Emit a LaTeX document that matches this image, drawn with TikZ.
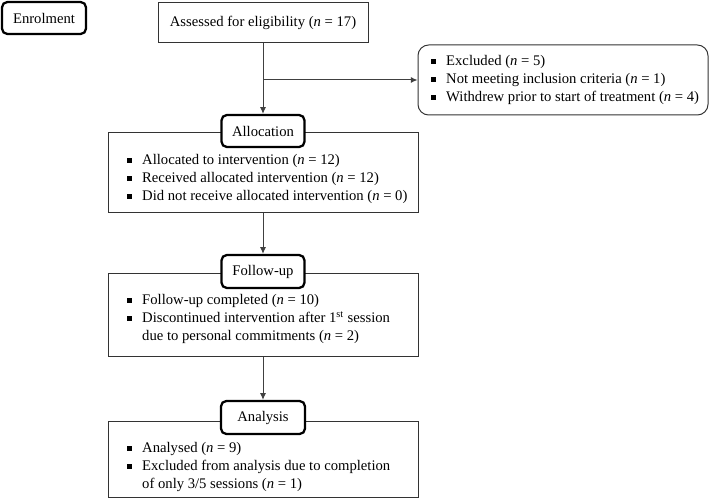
\documentclass[tikz,border=0pt]{standalone}
\usepackage{fontspec}
\setmainfont{Liberation Serif}
\usetikzlibrary{arrows.meta}
\newcommand{\sqbul}{\rule[1.5pt]{3.7pt}{3.7pt}}
\newcommand{\nn}{\textit{n}}

\begin{document}
\begin{tikzpicture}[x=0.75pt, y=-0.75pt,
    every node/.style={font=\fontsize{11}{13.5}\selectfont},
    box/.style={draw=black!80, line width=0.75pt, inner sep=0pt},
    labelbox/.style={draw, line width=1.7pt, rounded corners=4pt, fill=white, inner sep=0pt},
    listtext/.style={anchor=west, inner sep=0pt},
    arr/.style={draw=black!75, line width=0.75pt, -{Latex[length=5pt,width=4.5pt]}}]

    \useasboundingbox (0, 0) rectangle (711, 499);

    \node[labelbox, minimum width=63pt, minimum height=24pt] (enrol) at (44, 18) {Enrolment};
    \node[box, minimum width=157.5pt, minimum height=30pt] (assess) at (263, 23) {Assessed for eligibility (\nn{} = 17)};

    \node[box, rounded corners=8pt, minimum width=217.5pt, minimum height=52.5pt] (excl) at (563, 80) {};
    \node[listtext] (exclT) at (431, 80) {\begin{tabular}{@{}l@{\hspace{7.5pt}}l@{}}
        \sqbul & Excluded (\nn{} = 5)\\
        \sqbul & Not meeting inclusion criteria (\nn{} = 1)\\
        \sqbul & Withdrew prior to start of treatment (\nn{} = 4)
    \end{tabular}};

    \node[box, minimum width=232.5pt, minimum height=60pt] (alloc) at (263, 173) {};
    \node[labelbox, minimum width=62.25pt, minimum height=24pt] (allocL) at (263, 131) {Allocation};
    \node[listtext] (allocT) at (127, 179) {\begin{tabular}{@{}l@{\hspace{7.5pt}}l@{}}
        \sqbul & Allocated to intervention (\nn{} = 12)\\
        \sqbul & Received allocated intervention (\nn{} = 12)\\
        \sqbul & Did not receive allocated intervention (\nn{} = 0)
    \end{tabular}};

    \node[box, minimum width=232.5pt, minimum height=61.5pt] (follow) at (263, 315) {};
    \node[labelbox, minimum width=62.25pt, minimum height=24.75pt] (followL) at (263, 271.5) {Follow-up};
    \node[listtext] (followT) at (127, 319) {\begin{tabular}{@{}l@{\hspace{7.5pt}}l@{}}
        \sqbul & Follow-up completed (\nn{} = 10)\\
        \sqbul & Discontinued intervention after 1\textsuperscript{st} session\\
               & due to personal commitments (\nn{} = 2)
    \end{tabular}};

    \node[box, minimum width=232.5pt, minimum height=57pt] (analys) at (263, 459) {};
    \node[labelbox, minimum width=63pt, minimum height=24.75pt] (analysL) at (263, 417.5) {Analysis};
    \node[listtext] (analysT) at (127, 467) {\begin{tabular}{@{}l@{\hspace{7.5pt}}l@{}}
        \sqbul & Analysed (\nn{} = 9)\\
        \sqbul & Excluded from analysis due to completion\\
               & of only 3/5 sessions (\nn{} = 1)
    \end{tabular}};

    \coordinate (split) at (263, 80);
    \draw[arr] (assess) -- (allocL);
    \draw[arr] (split) -- (excl);
    \draw[arr] (alloc) -- (followL);
    \draw[arr] (follow) -- (analysL);

\end{tikzpicture}
\end{document}
